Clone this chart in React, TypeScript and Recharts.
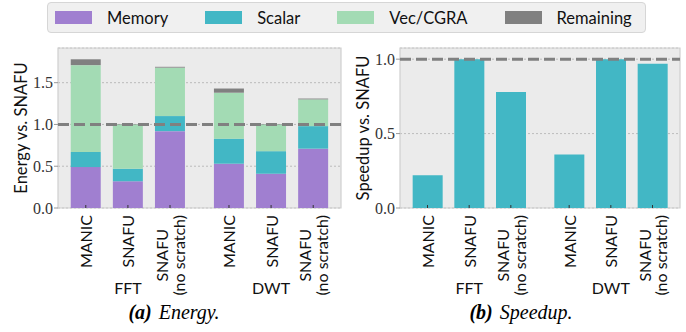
import { BarChart, Bar, XAxis, YAxis, CartesianGrid, ReferenceLine, ReferenceArea } from "recharts";

const benchmarks = ["FFT", "DWT"];
const configs = ["MANIC", "SNAFU", "SNAFU\n(no scratch)"];

// energy breakdown, normalised to SNAFU (FFT x3, DWT x3)
const memory = [0.49, 0.32, 0.92, 0.53, 0.41, 0.71];
const scalar = [0.18, 0.15, 0.18, 0.3, 0.27, 0.27];
const vecCgra = [1.04, 0.53, 0.58, 0.55, 0.32, 0.32];
const remaining = [0.07, 0.005, 0.01, 0.05, 0.005, 0.01];

const speedup = [0.22, 1.0, 0.78, 0.36, 1.0, 0.97];

const energyTicks = [0, 0.5, 1.0, 1.5];
const speedupTicks = [0, 0.5, 1.0];

const GROUP_GAP = 0.4;
const COLORS = {
  memory: "#a07fd0",
  scalar: "#42b7c5",
  vec: "#a3dbb4",
  remaining: "#808080",
};
const SANS = "Lato, 'DejaVu Sans', sans-serif";
const SERIF = "'Liberation Serif', serif";

const rows = benchmarks.flatMap((bench, gi) =>
  configs.map((config, ci) => {
    const i = gi * configs.length + ci;
    return {
      pos: gi * (configs.length + GROUP_GAP) + ci,
      bench,
      config,
      ci,
      memory: memory[i],
      scalar: scalar[i],
      vecCgra: vecCgra[i],
      remaining: remaining[i],
      speedup: speedup[i],
    };
  })
);
const positions = rows.map((r) => r.pos);
const xDomain = [-0.66, 6.06];

let ctx: CanvasRenderingContext2D | null = null;
function textWidth(s: string, font: string) {
  if (!ctx) ctx = document.createElement("canvas").getContext("2d");
  if (!ctx) return s.length * 7;
  ctx.font = font;
  return ctx.measureText(s).width;
}

function ConfigTick(props: any) {
  const { x, y, payload } = props;
  const row = rows.find((r) => Math.abs(r.pos - payload.value) < 1e-6);
  if (!row) return null;
  const lines = row.config.split("\n");
  const fs = 16;
  const top = y + 7;
  const lineH = 16.5;
  const w = Math.max(...lines.map((l) => textWidth(l, `${fs}px Lato`)));
  return (
    <g>
      <line x1={x} x2={x} y1={y - 3} y2={y} stroke="#333" strokeWidth={1} />
      {lines.map((l, i) => {
        const off = (i - (lines.length - 1) / 2) * lineH;
        return lines.length === 1 ? (
          <text key={i} transform={`translate(${x},${top}) rotate(-90)`} textAnchor="end" dominantBaseline="central"
            fontFamily={SANS} fontSize={fs} fill="#111">{l}</text>
        ) : (
          <text key={i} transform={`translate(${x + off},${top + w / 2}) rotate(-90)`} textAnchor="middle"
            dominantBaseline="central" fontFamily={SANS} fontSize={fs} fill="#111">{l}</text>
        );
      })}
      {row.ci === 1 && (
        <text x={x} y={y + 79} textAnchor="middle" dominantBaseline="central" fontFamily={SANS} fontSize={16} fill="#111">
          {row.bench}
        </text>
      )}
    </g>
  );
}

function ValueTick(props: any) {
  const { x, y, payload } = props;
  return (
    <text x={x} y={y} textAnchor="end" dominantBaseline="central" fontFamily={SERIF} fontSize={16} fill="#333">
      {Number(payload.value).toFixed(1)}
    </text>
  );
}

function yLabel(text: string) {
  return (p: any) => {
    const vb = p.viewBox;
    const cx = vb.x + vb.width / 2 - 18;
    const cy = vb.y + vb.height / 2;
    return (
      <text transform={`translate(${cx},${cy}) rotate(-90)`} textAnchor="middle" dominantBaseline="central"
        fontFamily={SANS} fontSize={16.5} fill="#111">{text}</text>
    );
  };
}

function Panel({ left, marginLeft, marginRight, yMax, ticks, label, children }: any) {
  return (
    <div style={{ position: "absolute", left, top: 0 }}>
      <BarChart width={343} height={310} data={rows} margin={{ top: 48, right: marginRight, left: marginLeft, bottom: 12 }}>
        <CartesianGrid vertical={false} fill="#ebebeb" stroke="#b0b0b0" strokeDasharray="2 2" strokeWidth={0.8} />
        <ReferenceArea x1={xDomain[0]} x2={xDomain[1]} y1={0} y2={yMax} fill="none" stroke="#cfcfcf" strokeWidth={1.2} ifOverflow="visible" />
        <XAxis type="number" dataKey="pos" domain={xDomain} ticks={positions} interval={0} axisLine={false}
          tickLine={false} tickSize={0} tickMargin={0} height={90} tick={<ConfigTick />} allowDataOverflow />
        <YAxis width={38} domain={[0, yMax]} ticks={ticks} allowDataOverflow axisLine={false}
          tickLine={{ stroke: "#999" }} tickSize={4} tickMargin={1} tick={<ValueTick />}
          label={yLabel(label)} />
        {children}
        <ReferenceLine y={1} stroke="#808080" strokeWidth={3} strokeDasharray="11 5" />
      </BarChart>
    </div>
  );
}

const legendItems = [
  { name: "Memory", color: COLORS.memory },
  { name: "Scalar", color: COLORS.scalar },
  { name: "Vec/CGRA", color: COLORS.vec },
  { name: "Remaining", color: COLORS.remaining },
];

const captionStyle: any = {
  position: "absolute", width: 240, top: 301, textAlign: "center", fontFamily: SERIF,
  fontSize: 20, fontStyle: "italic", lineHeight: "22px", whiteSpace: "nowrap",
};

export default function App() {
  return (
    <div style={{ position: "absolute", left: 0, top: 0, width: 686, height: 332, background: "#fff", overflow: "hidden" }}>
      <Panel left={0} marginLeft={20} marginRight={2} yMax={1.915} ticks={energyTicks} label="Energy vs. SNAFU">
        <Bar dataKey="memory" stackId="e" fill={COLORS.memory} barSize={30} isAnimationActive={false} />
        <Bar dataKey="scalar" stackId="e" fill={COLORS.scalar} barSize={30} isAnimationActive={false} />
        <Bar dataKey="vecCgra" stackId="e" fill={COLORS.vec} barSize={30} isAnimationActive={false} />
        <Bar dataKey="remaining" stackId="e" fill={COLORS.remaining} barSize={30} isAnimationActive={false} />
      </Panel>
      <Panel left={343} marginLeft={19} marginRight={6} yMax={1.075} ticks={speedupTicks} label="Speedup vs. SNAFU">
        <Bar dataKey="speedup" fill={COLORS.scalar} barSize={30} isAnimationActive={false} />
      </Panel>

      <div style={{
        position: "absolute", left: 47, top: 2, width: 599, height: 31, boxSizing: "border-box",
        background: "#f0f0f0", border: "1px solid #d6d6d6", borderRadius: 4,
        display: "flex", alignItems: "center", padding: "0 8px 0 7px", gap: 37,
        fontFamily: SANS, fontSize: 16.5, color: "#111",
      }}>
        {legendItems.map((it) => (
          <div key={it.name} style={{ display: "flex", alignItems: "center" }}>
            <span style={{ display: "inline-block", width: 37, height: 13, background: it.color, marginRight: 15 }} />
            <span>{it.name}</span>
          </div>
        ))}
      </div>

      <div style={{ ...captionStyle, left: 174 - 120 }}>
        <b>(a)</b><span style={{ marginLeft: 7 }}>Energy.</span>
      </div>
      <div style={{ ...captionStyle, left: 521 - 120 }}>
        <b>(b)</b><span style={{ marginLeft: 7 }}>Speedup.</span>
      </div>
    </div>
  );
}
